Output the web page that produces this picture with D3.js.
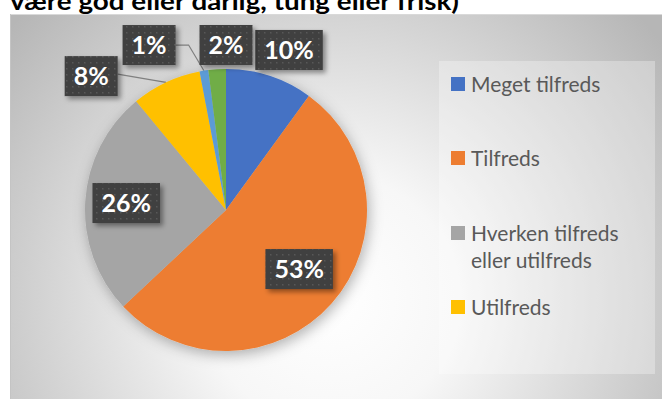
<!DOCTYPE html>
<html>
<head>
<meta charset="utf-8">
<script src="https://cdn.jsdelivr.net/npm/d3@7"></script>
<style>
  html, body { margin: 0; padding: 0; background: #ffffff; }
  svg { display: block; }
</style>
</head>
<body>
<svg id="chart" width="662" height="399"></svg>
<script>
// Satisfaction shares (percent), clockwise from 12 o'clock
const categories = ["Meget tilfreds", "Tilfreds", "Hverken tilfreds eller utilfreds", "Utilfreds", "Meget utilfreds", "Ved ikke"];
const values = [10, 53, 26, 8, 1, 2];
const colors = ["#4472C4", "#ED7D31", "#A5A5A5", "#FFC000", "#5B9BD5", "#70AD47"];
const legendLines = [["Meget tilfreds"], ["Tilfreds"], ["Hverken tilfreds", "eller utilfreds"], ["Utilfreds"]];
const titleText = "være god eller dårlig, tung eller frisk)";

// Label placement: distance from centre and angular nudge (degrees)
const labelRadius = [172, 94, 100, 190, 182, 165];
const labelShift = [3.5, -2.5, 0.4, -20, -16, 3.6];
const leader = [null, null, null, "straight", "elbow", null];

const W = 662, H = 399;
const cx = 226, cy = 210, R = 141;

const svg = d3.select("#chart");
const defs = svg.append("defs");

// Chart area background: soft radial gradient
const bg = defs.append("radialGradient").attr("id", "bgGrad")
  .attr("gradientUnits", "userSpaceOnUse")
  .attr("cx", 330).attr("cy", 300).attr("r", 420);
bg.append("stop").attr("offset", "0%").attr("stop-color", "#ffffff");
bg.append("stop").attr("offset", "30%").attr("stop-color", "#f7f7f7");
bg.append("stop").attr("offset", "100%").attr("stop-color", "#b6b6b6");

const pieShadow = defs.append("filter").attr("id", "pieShadow")
  .attr("x", "-20%").attr("y", "-20%").attr("width", "140%").attr("height", "140%");
pieShadow.append("feDropShadow").attr("dx", 2).attr("dy", 4).attr("stdDeviation", 7)
  .attr("flood-color", "#000").attr("flood-opacity", 0.3);

const boxShadow = defs.append("filter").attr("id", "boxShadow")
  .attr("x", "-30%").attr("y", "-30%").attr("width", "160%").attr("height", "160%");
boxShadow.append("feDropShadow").attr("dx", 3).attr("dy", 3).attr("stdDeviation", 2.5)
  .attr("flood-color", "#000").attr("flood-opacity", 0.4);

const dots = defs.append("pattern").attr("id", "dots")
  .attr("patternUnits", "userSpaceOnUse").attr("width", 6).attr("height", 6);
dots.append("rect").attr("width", 6).attr("height", 6).attr("fill", "#3f3f3f");
dots.append("rect").attr("x", 2).attr("y", 2).attr("width", 1.5).attr("height", 1.5).attr("fill", "#585858");

// Title (continues from above the visible area)
svg.append("text")
  .attr("x", 10).attr("y", 10)
  .attr("font-family", "Lato, 'Open Sans', sans-serif")
  .attr("font-weight", "bold").attr("font-size", 25)
  .attr("textLength", 449).attr("lengthAdjust", "spacingAndGlyphs")
  .attr("fill", "#000")
  .text(titleText);

// Chart area
svg.append("rect")
  .attr("x", 10).attr("y", 14).attr("width", W - 10).attr("height", H - 14)
  .attr("fill", "url(#bgGrad)");
svg.append("line")
  .attr("x1", 10).attr("x2", W).attr("y1", 14.5).attr("y2", 14.5)
  .attr("stroke", "#d9d9d9").attr("stroke-width", 1);
svg.append("line")
  .attr("x1", 10.5).attr("x2", 10.5).attr("y1", 14).attr("y2", H)
  .attr("stroke", "#c4c4c4").attr("stroke-width", 1);

// Legend panel
svg.append("rect")
  .attr("x", 439).attr("y", 61).attr("width", 216).attr("height", 313)
  .attr("fill", "#ffffff").attr("fill-opacity", 0.3);

// Pie
const pie = d3.pie().sort(null).value(d => d);
const arcs = pie(values);
const arc = d3.arc().innerRadius(0).outerRadius(R);

const pieG = svg.append("g").attr("transform", `translate(${cx},${cy})`);
pieG.append("g").attr("filter", "url(#pieShadow)")
  .selectAll("path").data(arcs).enter().append("path")
  .attr("d", arc)
  .attr("fill", (d, i) => colors[i]);

// Data labels
const labelFont = "Lato, 'Open Sans', sans-serif";
arcs.forEach((d, i) => {
  const mid = (d.startAngle + d.endAngle) / 2;
  const a = mid + labelShift[i] * Math.PI / 180;
  const lx = labelRadius[i] * Math.sin(a);
  const ly = -labelRadius[i] * Math.cos(a);

  const g = pieG.append("g");
  const t = g.append("text")
    .attr("x", lx).attr("y", ly)
    .attr("text-anchor", "middle").attr("dy", "0.36em")
    .attr("font-family", labelFont).attr("font-weight", "bold")
    .attr("font-size", 25).attr("fill", "#ffffff")
    .text(Math.round(values[i]) + "%");
  const tw = t.node().getComputedTextLength();
  const bw = tw + 18, bh = 40;
  g.insert("rect", "text")
    .attr("x", lx - bw / 2).attr("y", ly - bh / 2)
    .attr("width", bw).attr("height", bh)
    .attr("fill", "url(#dots)")
    .attr("filter", "url(#boxShadow)");

  if (leader[i]) {
    const px = R * Math.sin(mid), py = -R * Math.cos(mid);
    const sx = lx + bw / 2;
    const pts = leader[i] === "elbow"
      ? [[sx, ly], [sx + 13, ly], [px, py]]
      : [[sx, ly - 2], [px, py]];
    pieG.insert("path", "g")
      .attr("d", d3.line()(pts))
      .attr("fill", "none").attr("stroke", "#7f7f7f").attr("stroke-width", 1.2);
  }
});

// Legend (first four categories)
const legend = svg.append("g").attr("transform", "translate(451,0)");
const rowY = [84, 158, 233, 307];
legendLines.forEach((lines, i) => {
  legend.append("rect")
    .attr("x", 0).attr("y", rowY[i] - 7).attr("width", 14).attr("height", 14)
    .attr("fill", colors[i]);
  lines.forEach((ln, j) => {
    legend.append("text")
      .attr("x", 20).attr("y", rowY[i] + j * 27).attr("dy", "0.36em")
      .attr("font-family", labelFont).attr("font-size", 21)
      .attr("fill", "#595959")
      .text(ln);
  });
});
</script>
</body>
</html>
